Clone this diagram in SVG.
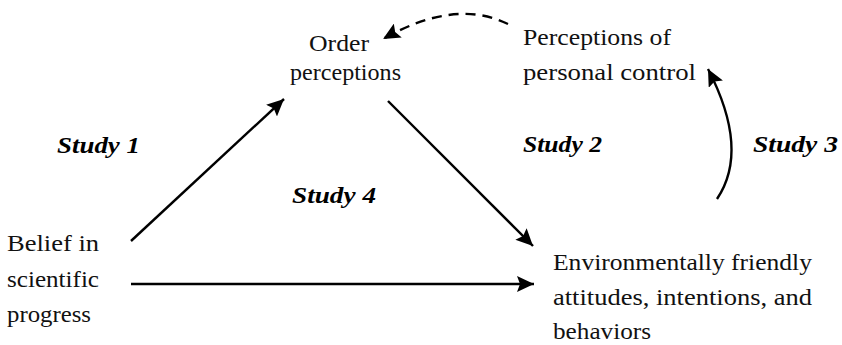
<svg xmlns="http://www.w3.org/2000/svg" width="842" height="345" viewBox="0 0 842 345">
<defs>
<marker id="ah" markerWidth="18" markerHeight="16" refX="17" refY="8" orient="auto" markerUnits="userSpaceOnUse">
<path d="M0,0 L17,8 L0,16 L3,8 Z" fill="#000"/>
</marker>
<style>
.t{font-family:"Liberation Serif","DejaVu Serif",serif;font-size:24px;fill:#111;}
.s{font-family:"Liberation Serif","DejaVu Serif",serif;font-size:24px;font-style:italic;font-weight:bold;fill:#000;}
.c{fill:none;stroke:#000;stroke-width:2.4;}
</style>
</defs>
<rect width="842" height="345" fill="#fff"/>
<g id="connectors">
<path class="c" d="M131,241 L284,99" marker-end="url(#ah)"/>
<path class="c" d="M388,101 L533,246" marker-end="url(#ah)"/>
<path class="c" d="M131,284 L534,284" marker-end="url(#ah)"/>
<path class="c" d="M508,24 Q455,-2 383,39" stroke-dasharray="10,7" stroke-width="3" marker-end="url(#ah)"/>
<path class="c" d="M717,199 Q750,150 708,69" marker-end="url(#ah)"/>
</g>
<g id="order">
<text class="t" x="309" y="51" textLength="60" lengthAdjust="spacingAndGlyphs">Order</text>
<text class="t" x="290" y="80" textLength="111" lengthAdjust="spacingAndGlyphs">perceptions</text>
</g>
<g id="control">
<text class="t" x="523" y="45" textLength="148" lengthAdjust="spacingAndGlyphs">Perceptions of</text>
<text class="t" x="523" y="80" textLength="173" lengthAdjust="spacingAndGlyphs">personal control</text>
</g>
<g id="belief">
<text class="t" x="7" y="251" textLength="92" lengthAdjust="spacingAndGlyphs">Belief in</text>
<text class="t" x="7" y="287" textLength="92" lengthAdjust="spacingAndGlyphs">scientific</text>
<text class="t" x="7" y="322" textLength="84" lengthAdjust="spacingAndGlyphs">progress</text>
</g>
<g id="env">
<text class="t" x="553" y="270" textLength="259" lengthAdjust="spacingAndGlyphs">Environmentally friendly</text>
<text class="t" x="553" y="305" textLength="259" lengthAdjust="spacingAndGlyphs">attitudes, intentions, and</text>
<text class="t" x="553" y="339" textLength="98" lengthAdjust="spacingAndGlyphs">behaviors</text>
</g>
<g id="labels">
<text class="s" x="57" y="153" textLength="83" lengthAdjust="spacingAndGlyphs">Study 1</text>
<text class="s" x="523" y="152" textLength="79" lengthAdjust="spacingAndGlyphs">Study 2</text>
<text class="s" x="753" y="152" textLength="85" lengthAdjust="spacingAndGlyphs">Study 3</text>
<text class="s" x="292" y="203" textLength="84" lengthAdjust="spacingAndGlyphs">Study 4</text>
</g>
</svg>
